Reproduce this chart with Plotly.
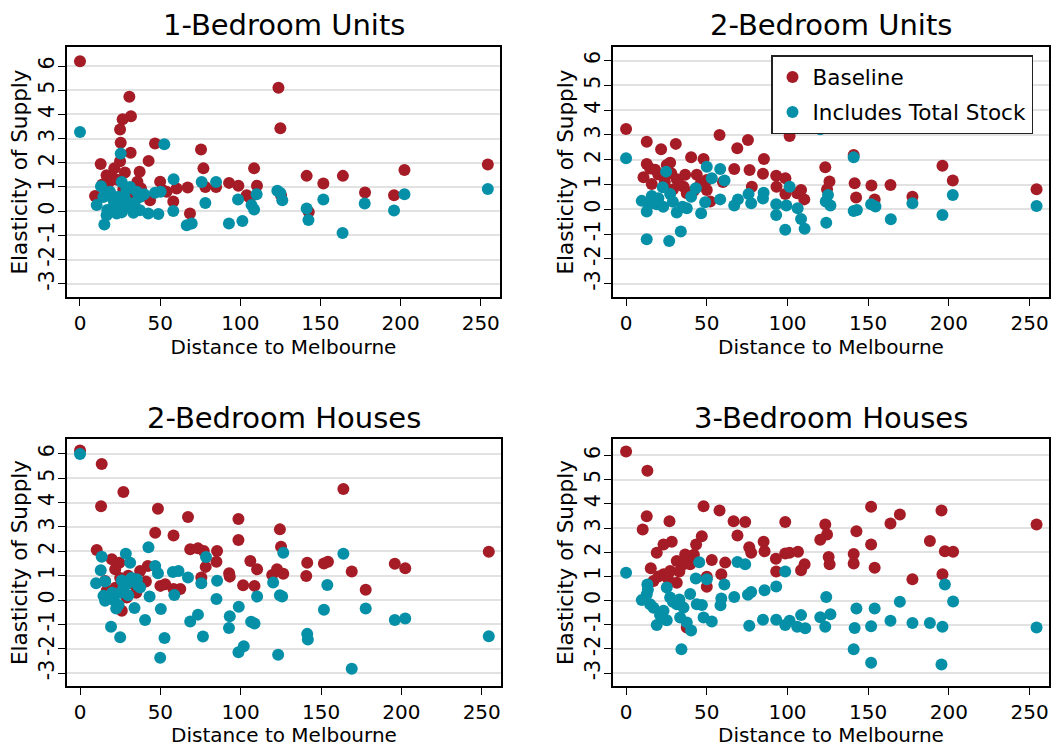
import plotly.graph_objects as go

# ---------------- data ----------------
titles = ["1-Bedroom Units", "2-Bedroom Units", "2-Bedroom Houses", "3-Bedroom Houses"]
series_names = ["Baseline", "Includes Total Stock"]
x_ticks = [0, 50, 100, 150, 200, 250]
y_ticks = [-3, -2, -1, 0, 1, 2, 3, 4, 5, 6]

# 1-Bedroom Units
u1_base_x = [0, 123.8, 30.8, 31.8, 26.6, 25, 125, 25.4, 46.8, 31.6, 75.5, 42.8, 25, 12.9, 21.4, 77, 108.6, 202.4, 254.4, 37.2, 16.6, 20, 18, 141.4, 164, 151.8, 35.8, 50, 60.3, 67.2, 78.2, 84.9, 93, 98.8, 110.4, 104, 125.4, 177.8, 195.9, 58.2, 43.7, 68.6, 142.7, 9.4, 33, 54, 18.7, 28, 23, 38, 14, 27, 52, 106]
u1_base_y = [6.2, 5.1, 4.73, 3.93, 3.8, 3.38, 3.43, 2.83, 2.8, 2.42, 2.55, 2.08, 2.06, 1.95, 1.77, 1.77, 1.77, 1.7, 1.93, 1.63, 1.49, 1.4, 1.2, 1.46, 1.46, 1.14, 1.22, 1.22, 0.94, 0.98, 1.0, 1.0, 1.17, 1.05, 1.05, 0.66, 0.66, 0.77, 0.66, 0.4, 0.45, -0.1, -0.03, 0.63, 0.6, 0.8, 0.73, 1.6, 1.3, 0.95, 1.1, 0.9, 0.85, 0.55]
u1_stock_x = [0, 52.6, 25.4, 58.4, 75.9, 84.9, 26, 13.1, 31.2, 18.7, 35.4, 37.4, 46.8, 50.3, 78.2, 98.6, 110.2, 123.1, 126.2, 151.8, 177.6, 195.9, 202.4, 254.4, 141.4, 142.5, 163.8, 101.3, 92.9, 66.6, 69.7, 107, 108.6, 58.2, 15.2, 10.4, 22.9, 33.3, 42.6, 48.9, 16.6, 20.8, 27, 14.6, 37.4, 24, 29, 30, 21, 34, 40, 125, 17, 26, 28]
u1_stock_y = [3.27, 2.77, 2.38, 1.32, 1.21, 1.21, 1.21, 1.03, 1.0, 0.8, 0.8, 0.59, 0.76, 0.8, 0.34, 0.48, 0.7, 0.84, 0.45, 0.48, 0.32, 0.03, 0.7, 0.92, 0.11, -0.37, -0.9, -0.41, -0.51, -0.58, -0.51, 0.25, 0.07, 0.01, -0.55, 0.25, -0.1, -0.07, -0.1, -0.12, -0.17, 0.18, 0.32, 0.59, 0.04, 0.6, 0.9, 0.15, 0.45, 0.35, 0.7, 0.75, 0.05, -0.05, 0.55]

# 2-Bedroom Units
u2_base_x = [0, 57.9, 75.5, 101.3, 30.8, 12.8, 21.7, 68.9, 40.3, 48, 85.4, 141, 196, 123.4, 12.8, 14.9, 25.2, 27.3, 67, 76.5, 84.8, 93, 98.7, 10.8, 20, 31.4, 36.6, 43.8, 50, 202.4, 126, 141.6, 152, 163.8, 77.9, 93.2, 108.4, 124.5, 15.9, 35.6, 37.6, 50, 98.7, 106, 110.4, 142.5, 154, 177.4, 254.3, 52.1, 24, 28, 33, 18, 46, 60, 42, 29]
u2_base_y = [3.24, 3.0, 2.8, 2.96, 2.64, 2.73, 2.42, 2.46, 2.1, 2.03, 2.03, 2.19, 1.76, 1.7, 1.83, 1.65, 1.79, 1.88, 1.63, 1.59, 1.43, 1.35, 1.25, 1.29, 1.4, 1.21, 1.39, 1.39, 1.18, 1.16, 1.12, 1.05, 0.96, 0.98, 0.91, 0.91, 0.78, 0.81, 1.02, 0.91, 0.65, 0.78, 0.62, 0.65, 0.4, 0.48, 0.4, 0.51, 0.81, 0.31, 1.1, 1.45, 1.0, 1.6, 1.0, 1.1, 0.75, 0.8]
u2_stock_x = [0, 120.3, 141, 24.8, 50, 58.3, 53.1, 61, 101.3, 22.7, 43.2, 15.9, 27.3, 40.3, 58.3, 69.3, 75.9, 85.2, 84.8, 77.5, 67, 93, 99.3, 106.3, 93, 108.4, 110.6, 98.6, 124, 125.1, 123.7, 126.6, 141, 143, 151.8, 154.5, 164, 177.4, 196, 202.4, 254.3, 12.8, 26.7, 33.9, 12.8, 9.7, 19, 23, 31.4, 37.6, 46.5, 49, 17, 20, 29, 35, 14]
u2_stock_y = [2.06, 3.23, 2.1, 1.52, 1.72, 1.63, 1.25, 1.16, 0.91, 0.89, 0.85, 0.54, 0.62, 0.51, 0.4, 0.4, 0.62, 0.67, 0.44, 0.24, 0.15, 0.2, 0.15, 0.04, -0.23, -0.39, -0.79, -0.83, -0.54, 0.58, 0.31, 0.15, -0.07, -0.03, 0.2, 0.11, -0.4, 0.24, -0.23, 0.58, 0.13, -1.21, -1.28, -0.9, -0.09, 0.34, 0.2, 0.1, -0.13, 0.04, -0.16, 0.28, 0.3, 0.45, 0.3, 0.1, 0.2]

# 2-Bedroom Houses
h2_base_x = [0, 13.5, 27, 13.1, 48.5, 163.9, 67.2, 98.6, 46.8, 58.2, 124.4, 98.6, 125.1, 68.6, 73.4, 77, 85.3, 10.4, 254.4, 19.8, 24.5, 84.9, 78.2, 106, 141.4, 151.8, 154.3, 195.9, 202.4, 110.2, 122.6, 42.2, 37.4, 21.9, 92.8, 93.2, 119.6, 126.5, 140.8, 169.1, 75.5, 41, 101.5, 108.6, 50, 53, 58.2, 62.4, 177.8, 15.6, 29.1, 26, 16.6, 33.3, 30, 25, 35, 22]
h2_base_y = [6.14, 5.58, 4.43, 3.85, 3.75, 4.56, 3.41, 3.33, 2.76, 2.65, 2.9, 2.46, 2.19, 2.08, 2.12, 2.01, 2.01, 2.05, 1.98, 1.67, 1.53, 1.57, 1.36, 1.6, 1.53, 1.5, 1.57, 1.49, 1.3, 1.26, 1.26, 1.4, 1.19, 1.26, 1.1, 0.96, 1.03, 1.08, 0.99, 1.17, 0.92, 0.76, 0.61, 0.58, 0.58, 0.65, 0.45, 0.45, 0.42, 0.78, 0.1, -0.44, 0.38, 0.65, 1.0, 0.9, 0.3, 0.5]
h2_stock_x = [0, 13.5, 28.5, 42.6, 78.4, 126.5, 163.9, 31.2, 46.8, 48.5, 57.8, 61.3, 12.9, 67.2, 85.3, 75.5, 120.2, 10, 15.6, 153.9, 35.4, 37.4, 58.7, 43.3, 84.9, 110.2, 124.4, 125.8, 14.6, 15.6, 33.9, 50.3, 98.8, 151.8, 177.8, 73.4, 93.2, 68.6, 40.5, 19.3, 92.7, 106.5, 108.6, 195.9, 202.4, 25, 52.6, 76.5, 141.4, 141.8, 254.4, 101.9, 98.6, 123.3, 49.9, 169.1, 22.5, 21, 25, 29, 32, 27, 24, 30, 36, 20, 26]
h2_stock_y = [5.99, 1.78, 1.9, 2.17, 1.77, 1.94, 1.9, 1.53, 1.4, 1.1, 1.15, 1.19, 1.22, 0.92, 0.79, 0.69, 0.72, 0.69, 0.76, 0.62, 0.85, 0.51, 0.21, 0.14, 0.04, 0.14, 0.2, 0.14, 0.17, -0.03, -0.33, -0.37, -0.28, -0.4, -0.35, -0.6, -0.67, -0.88, -0.82, -1.1, -1.15, -0.89, -0.96, -0.82, -0.76, -1.53, -1.56, -1.5, -1.39, -1.62, -1.49, -1.9, -2.14, -2.25, -2.37, -2.82, -0.35, 0.0, 0.3, 0.65, 0.9, 0.5, -0.2, 0.2, 0.6, 0.3, 0.8]

# 3-Bedroom Houses
h3_base_x = [0, 13.2, 12.8, 10.3, 26.9, 48, 57.9, 66.6, 73.8, 98.6, 151.8, 169.6, 163.8, 195.4, 254.3, 123.4, 124.5, 120.3, 142.7, 188.2, 151.8, 69, 85.2, 46.9, 43.4, 28.3, 23.2, 19, 76.3, 77.5, 85.8, 98.6, 101.3, 106.5, 141, 197.5, 202.6, 125.5, 126.1, 141, 154, 92.8, 110.6, 108.4, 53.1, 61.4, 93, 59, 50, 50, 196, 177.4, 15.3, 31.4, 35.6, 39.7, 23.2, 31.4, 17, 37.6, 27.3, 36.6, 20, 33, 42, 26]
h3_base_y = [6.16, 5.37, 3.49, 2.94, 3.28, 3.9, 3.72, 3.28, 3.25, 3.25, 3.88, 3.56, 3.19, 3.72, 3.15, 3.15, 2.73, 2.52, 2.87, 2.46, 2.32, 2.69, 2.43, 2.66, 2.32, 2.43, 2.32, 1.98, 2.21, 1.98, 2.04, 1.95, 1.98, 2.02, 1.93, 2.04, 2.02, 1.8, 1.5, 1.53, 1.36, 1.73, 1.5, 1.25, 1.68, 1.57, 1.2, 1.09, 0.99, 0.57, 1.09, 0.88, 1.34, 1.64, 1.5, 1.5, 1.09, 0.74, 0.81, -1.11, 1.22, 1.91, 1.0, 1.2, 1.9, 0.9]
h3_stock_x = [0, 45.3, 69, 73.8, 98.6, 43.2, 50, 60.9, 13.2, 93, 197.5, 85.8, 77.5, 75.5, 67, 124, 59, 58.5, 39.7, 9.7, 169.6, 202.6, 142.7, 154, 120.3, 126.6, 108.4, 84.8, 93, 101.3, 98.6, 106, 111, 163.8, 177.4, 188.2, 196, 151.8, 141.6, 123.4, 76.3, 254.3, 48, 53.1, 40.3, 33.5, 37.6, 19, 25.2, 34.3, 141, 151.8, 195.4, 23.2, 14.9, 27.3, 31.4, 35.6, 25.2, 43.8, 47, 12.8, 17, 21, 29, 33, 13.5]
h3_stock_y = [1.15, 1.59, 1.6, 1.5, 1.2, 0.91, 0.88, 0.67, 0.67, 0.58, 0.67, 0.43, 0.36, 0.24, 0.15, 0.15, 0.09, -0.19, 0.27, 0.02, -0.05, -0.04, -0.33, -0.33, -0.69, -0.56, -0.6, -0.79, -0.79, -0.83, -1.01, -1.08, -1.14, -0.83, -0.93, -0.93, -1.08, -1.06, -1.13, -1.08, -1.04, -1.11, -0.7, -0.86, -1.24, -0.7, -0.9, -1.01, -0.81, -2.01, -2.01, -2.57, -2.64, -0.42, -0.15, 0.13, -0.15, -0.29, 0.54, -0.15, -0.18, 0.26, -0.3, -0.6, -0.05, 0.05, 0.45]

panels = [
    (u1_base_x, u1_base_y, u1_stock_x, u1_stock_y),
    (u2_base_x, u2_base_y, u2_stock_x, u2_stock_y),
    (h2_base_x, h2_base_y, h2_stock_x, h2_stock_y),
    (h3_base_x, h3_base_y, h3_stock_x, h3_stock_y),
]

# ---------------- layout ----------------
W, H = 1057, 747
RED = "#A51C26"
TEAL = "#0590A8"
FONT = "DejaVu Sans"

# plot-area boxes in pixels (left, right, top, bottom)
boxes = [(67, 500, 47, 297), (613, 1049, 47, 297), (67, 501, 439, 686), (613, 1049, 439, 686)]
y_ranges = [[-3.55, 6.79], [-3.54, 6.55], [-3.53, 6.61], [-3.53, 6.68]]
x_range = [-8.1, 262]

fig = go.Figure()
layout = dict(
    width=W, height=H,
    margin=dict(l=0, r=0, t=0, b=0),
    paper_bgcolor="white", plot_bgcolor="white",
    font=dict(family=FONT, color="black", size=20),
    showlegend=True,
    legend=dict(
        x=771 / W, y=1 - 55 / H, xanchor="left", yanchor="top",
        bordercolor="#222222", borderwidth=1.5, bgcolor="white",
        font=dict(family=FONT, size=21.5, color="black"),
        tracegroupgap=4,
    ),
)
annotations = []
for i, (bx, by, sx, sy) in enumerate(panels):
    n = i + 1
    xa = "x" if n == 1 else f"x{n}"
    ya = "y" if n == 1 else f"y{n}"
    fig.add_trace(go.Scatter(
        x=bx, y=by, mode="markers", name=series_names[0],
        marker=dict(color=RED, size=12, line=dict(width=0)),
        xaxis=xa, yaxis=ya, showlegend=(n == 2), legendgroup="b",
    ))
    fig.add_trace(go.Scatter(
        x=sx, y=sy, mode="markers", name=series_names[1],
        marker=dict(color=TEAL, size=12, line=dict(width=0)),
        xaxis=xa, yaxis=ya, showlegend=(n == 2), legendgroup="s",
    ))
    l, r, t, b = boxes[i]
    xdom = [l / W, r / W]
    ydom = [1 - b / H, 1 - t / H]
    xkey = "xaxis" if n == 1 else f"xaxis{n}"
    ykey = "yaxis" if n == 1 else f"yaxis{n}"
    layout[xkey] = dict(
        domain=xdom, anchor=ya, range=x_range,
        tickvals=x_ticks, ticktext=[str(v) for v in x_ticks],
        showgrid=False, zeroline=False,
        showline=True, linecolor="black", linewidth=1.5, mirror=True,
        ticks="outside", ticklen=7, tickwidth=1.2, tickcolor="black",
        tickfont=dict(size=20, family=FONT),
        title=dict(text="Distance to Melbourne", font=dict(size=20, family=FONT), standoff=2),
    )
    layout[ykey] = dict(
        domain=ydom, anchor=xa, range=y_ranges[i],
        tickvals=y_ticks, ticktext=[str(v) for v in y_ticks],
        showgrid=True, gridcolor="#e2e2e2", gridwidth=1.5, zeroline=False,
        showline=True, linecolor="black", linewidth=1.5, mirror=True,
        ticks="outside", ticklen=7, tickwidth=1.2, tickcolor="black",
        tickangle=-90, ticklabelstandoff=-4,
        tickfont=dict(size=20.5, family=FONT),
        title=dict(text="Elasticity of Supply", font=dict(size=21.5, family=FONT), standoff=2),
    )
    title_y = 25 if i < 2 else 418
    annotations.append(dict(
        text=titles[i], x=(l + r) / 2 / W, y=1 - title_y / H,
        xref="paper", yref="paper", xanchor="center", yanchor="middle",
        showarrow=False, font=dict(size=29, family=FONT, color="black"),
    ))
layout["annotations"] = annotations
fig.update_layout(**layout)
fig.write_html("out.html", config={"displayModeBar": False},
               post_script="document.body.style.margin='0';")
